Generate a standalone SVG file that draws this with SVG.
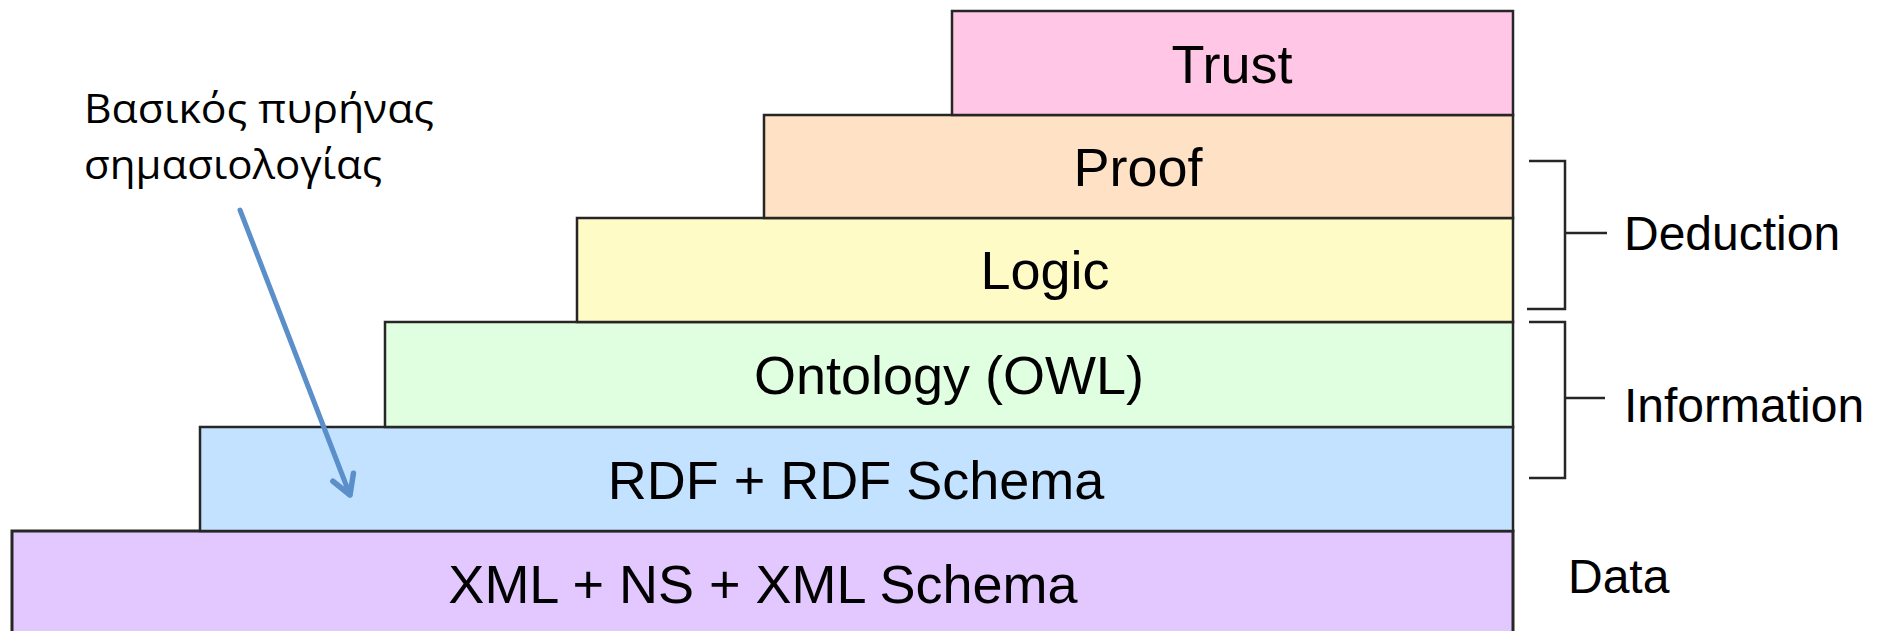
<svg xmlns="http://www.w3.org/2000/svg" width="1881" height="631" viewBox="0 0 1881 631">
  <style>
    .box { stroke: #262626; stroke-width: 2.5; }
    .lbl { font-family: "Liberation Sans", Arial, sans-serif; font-size: 54px; fill: #000; text-anchor: middle; }
    .side { font-family: "Liberation Sans", Arial, sans-serif; font-size: 48px; fill: #000; }
    .brk { fill: none; stroke: #262626; stroke-width: 2.5; }
    .note { font-family: "Open Sans", "Noto Sans", sans-serif; font-size: 41px; fill: #000; }
    .arrow { fill: none; stroke: #5b8fca; stroke-width: 5; stroke-linecap: round; stroke-linejoin: round; }
  </style>
  <defs>
    <marker id="chev" markerUnits="userSpaceOnUse" markerWidth="40" markerHeight="40" viewBox="-30 -20 40 40" refX="0" refY="0" orient="auto">
      <path d="M-19,-11 L0,0 L-19,11" fill="none" stroke="#5b8fca" stroke-width="5.5" stroke-linecap="round" stroke-linejoin="round"/>
    </marker>
  </defs>
  <rect width="1881" height="631" fill="#ffffff"/>

  <g id="xml">
    <rect class="box" x="12" y="531" width="1501" height="110" fill="#e3c8ff" style="stroke-width:3"/>
    <text class="lbl" x="763" y="603">XML + NS + XML Schema</text>
  </g>
  <g id="rdf">
    <rect class="box" x="200" y="427" width="1313" height="104" fill="#c3e2ff"/>
    <text class="lbl" x="856" y="499">RDF + RDF Schema</text>
  </g>
  <g id="ontology">
    <rect class="box" x="385" y="322" width="1128" height="105" fill="#e0ffe0"/>
    <text class="lbl" x="949" y="394">Ontology (OWL)</text>
  </g>
  <g id="logic">
    <rect class="box" x="577" y="218" width="936" height="104" fill="#fffbc6"/>
    <text class="lbl" x="1045" y="289">Logic</text>
  </g>
  <g id="proof">
    <rect class="box" x="764" y="115" width="749" height="103" fill="#ffe2c5"/>
    <text class="lbl" x="1138" y="186">Proof</text>
  </g>
  <g id="trust">
    <rect class="box" x="952" y="11" width="561" height="104" fill="#ffc6e5"/>
    <text class="lbl" x="1232" y="83">Trust</text>
  </g>

  <g id="deduction">
    <path class="brk" d="M1529,161 H1565 V309 H1527 M1565,233 H1607"/>
    <text class="side" x="1624" y="250">Deduction</text>
  </g>
  <g id="information">
    <path class="brk" d="M1529,322 H1565 V478 H1529 M1565,398 H1605"/>
    <text class="side" x="1624" y="422">Information</text>
  </g>
  <g id="data">
    <text class="side" x="1568" y="593">Data</text>
  </g>

  <g id="note">
    <text class="note" x="84" y="123" textLength="350" lengthAdjust="spacingAndGlyphs">Βασικός πυρήνας</text>
    <text class="note" x="84" y="179" textLength="298" lengthAdjust="spacingAndGlyphs">σημασιολογίας</text>
  </g>

  <g id="connectors">
    <path class="arrow" d="M240,210 L350,495" marker-end="url(#chev)"/>
  </g>
</svg>
